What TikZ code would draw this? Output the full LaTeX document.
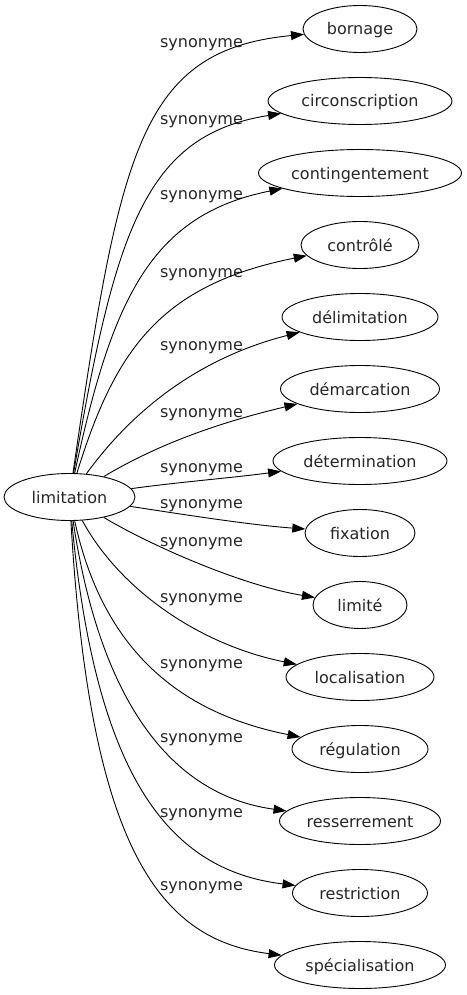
\documentclass[tikz,border=0pt]{standalone}
\usepackage{fontspec}
\setmainfont{DejaVu Sans}
\usetikzlibrary{shapes.geometric,arrows.meta}
\begin{document}
\begin{tikzpicture}[x=1pt,y=-1pt,
  every node/.style={font=\fontsize{16}{19}\selectfont, text=black!85},
  term/.style={draw, ellipse, inner sep=0pt, minimum height=47pt, line width=0.9pt, text height=14pt, text depth=2pt},
  rel/.style={draw, line width=0.9pt, -{Triangle[length=13pt,width=9pt]}},
  lbl/.style={anchor=base, inner sep=0pt}]
\useasboundingbox (0,0) rectangle (466,995);
\node[term, minimum width=131pt] (root) at (69.5,497) {limitation};
\node[term, minimum width=114pt] (t1) at (360,29) {bornage};
\node[term, minimum width=184pt] (t2) at (360,101) {circonscription};
\node[term, minimum width=203pt] (t3) at (360,173) {contingentement};
\node[term, minimum width=118pt] (t4) at (360,245) {contrôlé};
\node[term, minimum width=156pt] (t5) at (360,317) {délimitation};
\node[term, minimum width=159pt] (t6) at (360,389) {démarcation};
\node[term, minimum width=174pt] (t7) at (360,461) {détermination};
\node[term, minimum width=110pt] (t8) at (360,533) {fixation};
\node[term, minimum width=94pt] (t9) at (360,605) {limité};
\node[term, minimum width=148pt] (t10) at (360,677) {localisation};
\node[term, minimum width=136pt] (t11) at (360,749) {régulation};
\node[term, minimum width=161pt] (t12) at (360,821) {resserrement};
\node[term, minimum width=135pt] (t13) at (360,893) {restriction};
\node[term, minimum width=171pt] (t14) at (360,965) {spécialisation};

\node[lbl] (l1) at (201.5,48) {synonyme};
\node[lbl] (l2) at (201.5,125) {synonyme};
\node[lbl] (l3) at (201.5,200) {synonyme};
\node[lbl] (l4) at (201.5,277) {synonyme};
\node[lbl] (l5) at (201.5,350) {synonyme};
\node[lbl] (l6) at (201.5,417) {synonyme};
\node[lbl] (l7) at (201.5,472) {synonyme};
\node[lbl] (l8) at (201.5,508) {synonyme};
\node[lbl] (l9) at (201.5,546) {synonyme};
\node[lbl] (l10) at (201.5,602) {synonyme};
\node[lbl] (l11) at (201.5,668) {synonyme};
\node[lbl] (l12) at (201.5,742) {synonyme};
\node[lbl] (l13) at (201.5,817) {synonyme};
\node[lbl] (l14) at (201.5,890) {synonyme};

\draw[rel] (root) .. controls (120,150) and (140,50) .. (t1);
\draw[rel] (root) .. controls (115,230) and (145,135) .. (t2);
\draw[rel] (root) .. controls (112,300) and (150,215) .. (t3);
\draw[rel] (root) .. controls (115,350) and (160,285) .. (t4);
\draw[rel] (root) .. controls (140,400) and (210,355) .. (t5);
\draw[rel] (root) .. controls (165,440) and (230,420) .. (t6);
\draw[rel] (root) .. controls (180,482) and (230,478) .. (t7);
\draw[rel] (root) .. controls (180,514) and (250,525) .. (t8);
\draw[rel] (root) .. controls (150,545) and (240,585) .. (t9);
\draw[rel] (root) .. controls (120,590) and (200,645) .. (t10);
\draw[rel] (root) .. controls (105,660) and (190,715) .. (t11);
\draw[rel] (root) .. controls (100,700) and (170,795) .. (t12);
\draw[rel] (root) .. controls (95,770) and (165,870) .. (t13);
\draw[rel] (root) .. controls (90,850) and (160,940) .. (t14);
\end{tikzpicture}
\end{document}
